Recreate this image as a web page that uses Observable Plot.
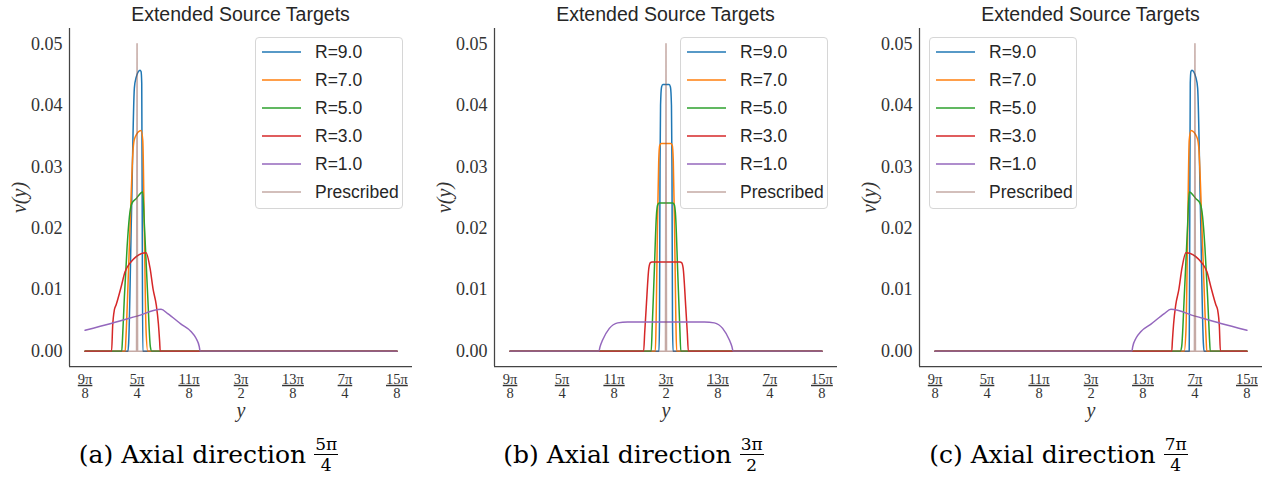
<!DOCTYPE html>
<html>
<head>
<meta charset="utf-8">
<script src="https://cdn.jsdelivr.net/npm/d3@7"></script>
<script src="https://cdn.jsdelivr.net/npm/@observablehq/plot@0.6"></script>
<style>
  html, body { margin: 0; padding: 0; background: #fff; }
  #fig { position: relative; width: 1267px; height: 482px; overflow: hidden; }
  .panel { position: absolute; top: 0; width: 417px; height: 482px; }
  .panel svg { position: absolute; left: 0; top: 0; }
  .title { position: absolute; top: 4px; left: 69px; width: 343px; text-align: center;
           font: 19.5px "Liberation Sans", Arial, sans-serif; line-height: 20px; color: #262626; white-space: nowrap; }
  .legend { position: absolute; top: 37px; width: 146px; height: 169px; box-sizing: content-box;
            border: 1px solid #d6d6d6; border-radius: 4px; background: rgba(255,255,255,0.85); padding: 0 0 1px 0; }
  .legend .row { height: 28px; display: flex; align-items: center; padding-left: 6px;
                 font: 17.5px "Liberation Sans", Arial, sans-serif; color: #262626; }
  .legend .row svg { position: static; margin-right: 14px; }
  .caption { position: absolute; top: 436px; left: 0; width: 417px; text-align: center;
             font: 25px "DejaVu Serif", serif; line-height: 30px; color: #000; white-space: nowrap; }
  .frac { display: inline-block; vertical-align: middle; text-align: center; font-size: 17px;
          margin-left: 8px; position: relative; top: -2px; }
  .frac .num { display: block; line-height: 20px; height: 20px; border-bottom: 1px solid #000; padding: 0 1px; }
  .frac .den { display: block; line-height: 20px; height: 20px; }
</style>
</head>
<body>
<div id="fig"></div>
<script>
// ---------- data (x in units of π/8) ----------
const xTicks = [9, 10, 11, 12, 13, 14, 15];
const xTickNum = ["9π", "5π", "11π", "3π", "13π", "7π", "15π"];
const xTickDen = ["8", "4", "8", "2", "8", "4", "8"];
const yTicks = [0, 0.01, 0.02, 0.03, 0.04, 0.05];
const seriesNames = ["R=9.0", "R=7.0", "R=5.0", "R=3.0", "R=1.0", "Prescribed"];
const seriesColors = ["#1f77b4", "#ff7f0e", "#2ca02c", "#d62728", "#9467bd", "#8c564b"];
const panelTitle = "Extended Source Targets";
const captionLabels = ["(a) Axial direction", "(b) Axial direction", "(c) Axial direction"];
const captionNum = ["5π", "3π", "7π"];
const captionDen = ["4", "2", "4"];

// Panel (a): axial direction 5π/4
const a_R9 = [[9,0],[9.825,0],[9.838,0.0013],[9.893,0.0225],[9.948,0.0428],[9.981,0.0445],[10.058,0.0457],[10.077,0.0455],[10.09,0.0436],[10.10,0.020],[10.11,0],[15,0]];
const a_R7 = [[9,0],[9.772,0],[9.785,0.002],[9.852,0.017],[9.929,0.0334],[9.962,0.0348],[10.077,0.0359],[10.11,0.0343],[10.14,0.0196],[10.173,0.0034],[10.206,0],[15,0]];
const a_R5 = [[9,0],[9.705,0],[9.72,0.002],[9.756,0.0088],[9.808,0.0169],[9.852,0.0218],[9.898,0.024],[9.981,0.0248],[10.11,0.0259],[10.14,0.0207],[10.206,0.0088],[10.256,0.0007],[10.283,0],[15,0]];
const a_R3 = [[9,0],[9.51,0],[9.53,0.004],[9.563,0.0067],[9.596,0.0075],[9.692,0.0104],[9.769,0.0129],[9.852,0.0142],[10.173,0.016],[10.25,0.0135],[10.31,0.01],[10.37,0.0075],[10.41,0.0045],[10.435,0.0015],[10.445,0],[15,0]];
const a_R1 = [[9,0.0034],[9.5,0.0045],[10,0.0057],[10.462,0.0068],[10.59,0.0061],[10.846,0.0044],[11.038,0.0032],[11.135,0.0021],[11.198,0.0007],[11.212,0],[15,0]];
const a_Pres = [[9,0],[9.99,0],[10,0.05],[10.01,0],[15,0]];

// Panel (b): axial direction 3π/2
const b_R9 = [[9,0],[11.865,0],[11.875,0.005],[11.885,0.03],[11.895,0.04],[11.915,0.043],[11.94,0.0434],[12.06,0.0434],[12.085,0.043],[12.105,0.04],[12.115,0.03],[12.125,0.005],[12.135,0],[15,0]];
const b_R7 = [[9,0],[11.795,0],[11.81,0.005],[11.835,0.02],[11.86,0.031],[11.88,0.0335],[11.91,0.0338],[12.09,0.0338],[12.12,0.0335],[12.14,0.031],[12.165,0.02],[12.19,0.005],[12.205,0],[15,0]];
const b_R5 = [[9,0],[11.715,0],[11.735,0.004],[11.775,0.013],[11.815,0.022],[11.84,0.0238],[11.87,0.0241],[12.13,0.0241],[12.16,0.0238],[12.185,0.022],[12.225,0.013],[12.265,0.004],[12.285,0],[15,0]];
const b_R3 = [[9,0],[11.57,0],[11.59,0.003],[11.62,0.0072],[11.67,0.0135],[11.70,0.0144],[11.73,0.0145],[12.27,0.0145],[12.30,0.0144],[12.33,0.0135],[12.38,0.0072],[12.41,0.003],[12.43,0],[15,0]];
const b_R1 = [[9,0],[10.71,0],[10.73,0.0007],[10.78,0.0018],[10.91,0.0037],[11.07,0.0046],[11.26,0.00476],[12.74,0.00476],[12.93,0.0046],[13.09,0.0037],[13.22,0.0018],[13.27,0.0007],[13.29,0],[15,0]];
const b_Pres = [[9,0],[11.99,0],[12,0.05],[12.01,0],[15,0]];

// Panel (c): axial direction 7π/4
const c_R9 = [[9,0],[13.89,0],[13.90,0.020],[13.91,0.0436],[13.923,0.0455],[13.942,0.0457],[14.019,0.0445],[14.052,0.0428],[14.107,0.0225],[14.162,0.0013],[14.175,0],[15,0]];
const c_R7 = [[9,0],[13.794,0],[13.827,0.0034],[13.86,0.0196],[13.89,0.0343],[13.923,0.0359],[14.038,0.0348],[14.071,0.0334],[14.148,0.017],[14.215,0.002],[14.228,0],[15,0]];
const c_R5 = [[9,0],[13.717,0],[13.744,0.0007],[13.794,0.0088],[13.86,0.0207],[13.89,0.0259],[14.019,0.0248],[14.102,0.024],[14.148,0.0218],[14.192,0.0169],[14.244,0.0088],[14.28,0.002],[14.295,0],[15,0]];
const c_R3 = [[9,0],[13.555,0],[13.565,0.0015],[13.59,0.0045],[13.63,0.0075],[13.69,0.01],[13.75,0.0135],[13.827,0.016],[14.148,0.0142],[14.231,0.0129],[14.308,0.0104],[14.404,0.0075],[14.437,0.0067],[14.47,0.004],[14.49,0],[15,0]];
const c_R1 = [[9,0],[12.788,0],[12.802,0.0007],[12.865,0.0021],[12.962,0.0032],[13.154,0.0044],[13.41,0.0061],[13.538,0.0068],[14,0.0057],[14.5,0.0045],[15,0.0034]];
const c_Pres = [[9,0],[13.99,0],[14,0.05],[14.01,0],[15,0]];

const panels = [
  [a_R9, a_R7, a_R5, a_R3, a_R1, a_Pres],
  [b_R9, b_R7, b_R5, b_R3, b_R1, b_Pres],
  [c_R9, c_R7, c_R5, c_R3, c_R1, c_Pres]
];
const panelLeft = [0, 425, 850];
const legendLeft = [255, 255, 79];

// ---------- drawing ----------
const fig = document.getElementById("fig");
const xDomain = [8.7, 15.3];
const yDomain = [-0.0025, 0.0525];
const spine = "#444";

panels.forEach((series, p) => {
  const div = document.createElement("div");
  div.className = "panel";
  div.style.left = panelLeft[p] + "px";
  fig.appendChild(div);

  const lineMarks = series.map((data, i) => Plot.line(data, {
    x: d => d[0], y: d => d[1],
    stroke: seriesColors[i],
    strokeWidth: 1.5,
    strokeOpacity: i === 5 ? 0.5 : 1,
    curve: i === 5 ? "linear" : "monotone-x"
  }));

  const svg = Plot.plot({
    width: 417, height: 420,
    marginLeft: 69, marginRight: 5, marginTop: 28, marginBottom: 54,
    x: {domain: xDomain},
    y: {domain: yDomain},
    style: {fontFamily: "'Liberation Serif', 'Times New Roman', serif", background: "transparent", overflow: "visible"},
    marks: [
      Plot.ruleX([xDomain[0]], {stroke: spine, strokeWidth: 1.25}),
      Plot.ruleY([yDomain[0]], {stroke: spine, strokeWidth: 1.25}),
      Plot.axisY({ticks: yTicks, tickFormat: d3.format(".2f"), tickSize: 0, tickPadding: 7, fontSize: 18, color: "#333", label: null}),
      Plot.axisX({ticks: xTicks, tickFormat: d => xTickNum[xTicks.indexOf(d)], tickSize: 0, tickPadding: 7, fontSize: 14.5, color: "#333", label: null}),
      Plot.axisX({ticks: xTicks, tickFormat: d => xTickDen[xTicks.indexOf(d)], tickSize: 0, tickPadding: 21, fontSize: 14.5, color: "#333", label: null}),
      Plot.text(["y"], {frameAnchor: "bottom", dy: 44, lineAnchor: "middle", textAnchor: "middle", fontStyle: "italic", fontSize: 20, fill: "#333"}),
      Plot.text(["ν(y)"], {frameAnchor: "left", dx: -50, rotate: -90, lineAnchor: "middle", textAnchor: "middle", fontStyle: "italic", fontSize: 20, fill: "#333"}),
      ...lineMarks
    ]
  });
  // numerators get the fraction bar (underline)
  const tickGroups = svg.querySelectorAll('g[aria-label="x-axis tick label"]');
  if (tickGroups.length) tickGroups[0].style.textDecoration = "underline";
  div.appendChild(svg);

  const title = document.createElement("div");
  title.className = "title";
  title.textContent = panelTitle;
  div.appendChild(title);

  const legend = document.createElement("div");
  legend.className = "legend";
  legend.style.left = legendLeft[p] + "px";
  seriesNames.forEach((name, i) => {
    const row = document.createElement("div");
    row.className = "row";
    const sw = d3.create("svg").attr("width", 39).attr("height", 4);
    sw.append("line").attr("x1", 0).attr("x2", 39).attr("y1", 2).attr("y2", 2)
      .attr("stroke", seriesColors[i]).attr("stroke-width", 1.5)
      .attr("stroke-opacity", i === 5 ? 0.5 : 1);
    row.appendChild(sw.node());
    const t = document.createElement("span");
    t.textContent = name;
    row.appendChild(t);
    legend.appendChild(row);
  });
  div.appendChild(legend);

  const cap = document.createElement("div");
  cap.className = "caption";
  cap.innerHTML = `${captionLabels[p]}<span class="frac"><span class="num">${captionNum[p]}</span><span class="den">${captionDen[p]}</span></span>`;
  div.appendChild(cap);
});
</script>
</body>
</html>
